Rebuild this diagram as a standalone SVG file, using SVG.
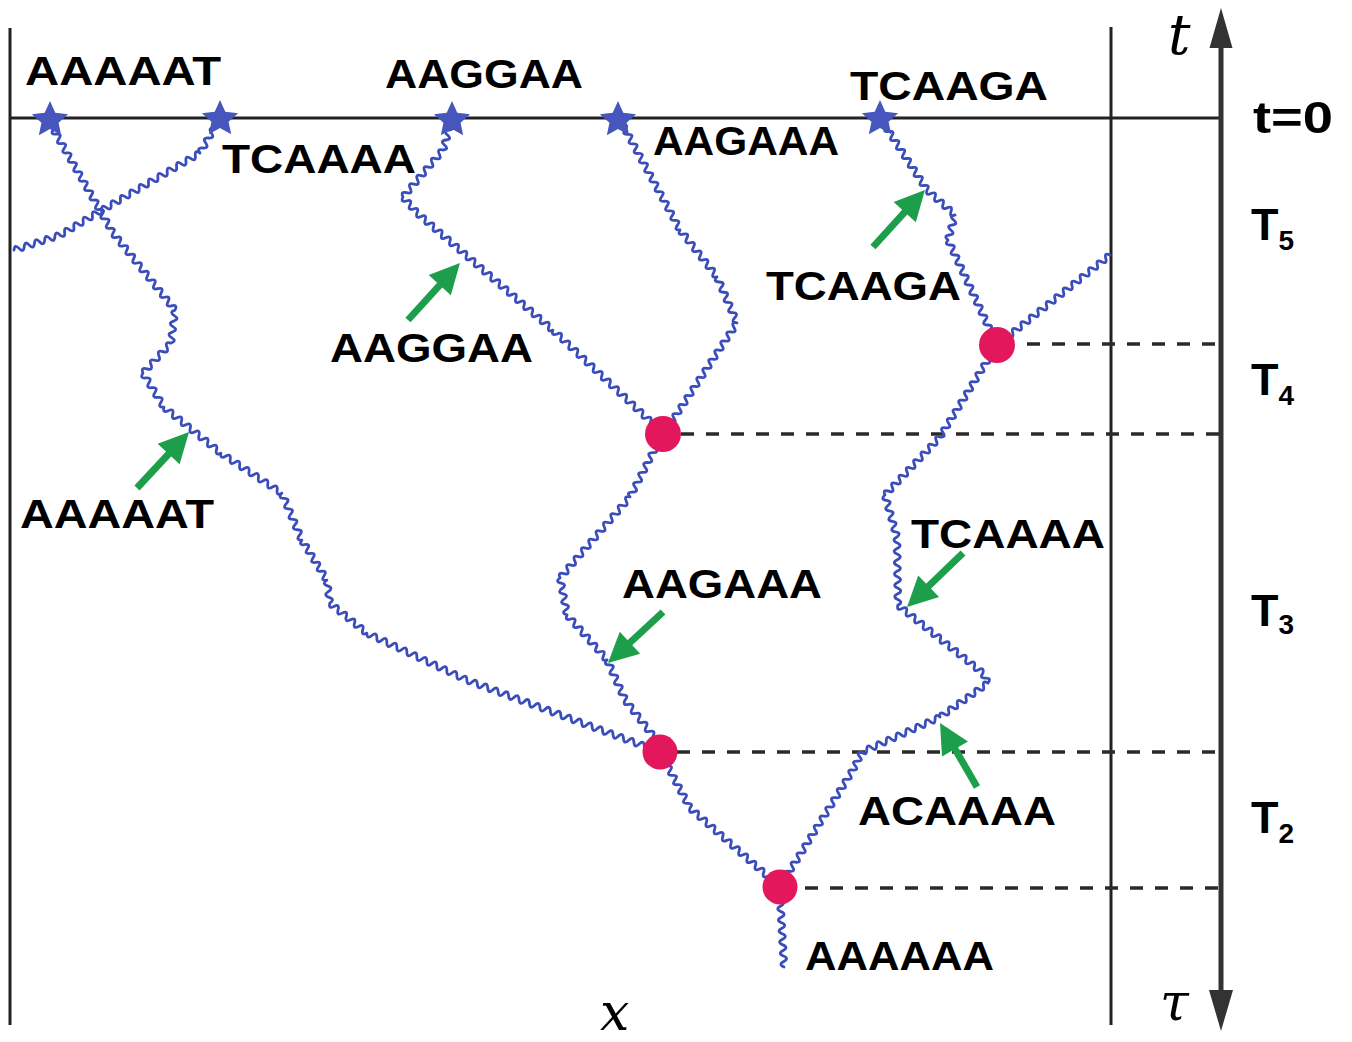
<svg xmlns="http://www.w3.org/2000/svg" width="1352" height="1042" viewBox="0 0 1352 1042">
<style>
.frame{stroke:#222;stroke-width:3;fill:none}
.axis{stroke:#333;stroke-width:5;fill:none}
.dash{stroke:#2a2a2a;stroke-width:3.5;stroke-dasharray:13 12;fill:none}
.lin{stroke:#3a4dbb;stroke-width:2.8;fill:none;stroke-linejoin:round;stroke-linecap:round}
.star{fill:#4656bd}
.dot{fill:#e3175b}
.arr{stroke:#1c9e4b;stroke-width:7;fill:none;marker-end:url(#ah)}
.seq{font-family:"Liberation Sans",Arial,sans-serif;font-weight:bold;font-size:41px;fill:#000}
.tl{font-family:"Liberation Sans",Arial,sans-serif;font-weight:bold;font-size:45px;fill:#000}
.math{font-family:"DejaVu Serif","Liberation Serif",serif;font-style:italic;fill:#000}
</style>
<defs>
<marker id="ah" markerUnits="userSpaceOnUse" markerWidth="34" markerHeight="34" viewBox="0 -17 34 34" refX="2" refY="0" orient="auto" overflow="visible">
<path d="M0,-15 L30,0 L0,15 Z" fill="#1c9e4b"/>
</marker>
<polygon id="starshape" points="0,-19 5.29,-7.28 18.07,-5.87 8.56,2.78 11.17,15.37 0,9 -11.17,15.37 -8.56,2.78 -18.07,-5.87 -5.29,-7.28"/>
</defs>
<rect width="1352" height="1042" fill="#fff"/>
<g id="frame">
<line class="frame" x1="10" y1="28" x2="10" y2="1025"/>
<line class="frame" x1="1111" y1="27" x2="1111" y2="1025"/>
<line class="frame" x1="10" y1="118" x2="1221" y2="118"/>
<line class="axis" x1="1221" y1="40" x2="1221" y2="998"/>
<path d="M1221,8 L1232.5,48 L1209.5,48 Z" fill="#333"/>
<path d="M1221,1031 L1233,990 L1209,990 Z" fill="#333"/>
</g>
<g id="dashes">
<line class="dash" x1="1027" y1="344" x2="1219" y2="344"/>
<line class="dash" x1="681" y1="434" x2="1219" y2="434"/>
<line class="dash" x1="677" y1="752" x2="1219" y2="752"/>
<line class="dash" x1="805" y1="888" x2="1219" y2="888"/>
</g>
<g id="connectors">
<path class="lin" d="M48,120 q-3.84,5.35 2.71,4.71 t2.71,4.71 2.71,4.71 2.71,4.71 2.71,4.71 2.71,4.71  2.71,4.71 2.71,4.71 2.71,4.71 2.71,4.71 2.71,4.71  2.71,4.71 2.71,4.71 2.71,4.71 2.71,4.71 2.71,4.71  2.71,4.71 2.71,4.71 2.71,4.71 2.71,4.71 2.71,4.71  2.71,4.71 2.71,4.71 2.71,4.71
 q-2.96,5.9 3.44,4.28 t3.44,4.28 3.44,4.28 3.44,4.28 3.44,4.28 3.44,4.28  3.44,4.28 3.44,4.28 3.44,4.28 3.44,4.28 3.44,4.28  3.44,4.28 3.44,4.28 3.44,4.28 3.44,4.28 3.44,4.28  3.44,4.28 3.44,4.28
 q-6.3,2.03 -0.67,5.5 t-0.67,5.5 -0.67,5.5 -0.67,5.5 -0.67,5.5 -0.67,5.5
 q-6.38,-1.96 -4,4.29 t-4,4.29 -4,4.29 -4,4.29 -4,4.29 -4,4.29 -4,4.29
 q-3.6,5.58 3,4.86 t3,4.86 3,4.86 3,4.86 3,4.86 3,4.86 3,4.86
 q-1.58,6.44 4.38,3.54 t4.38,3.54 4.38,3.54 4.38,3.54 4.38,3.54 4.38,3.54  4.38,3.54 4.38,3.54 4.38,3.54 4.38,3.54 4.38,3.54  4.38,3.54 4.38,3.54
 q-0.95,6.55 4.69,3.08 t4.69,3.08 4.69,3.08 4.69,3.08 4.69,3.08 4.69,3.08  4.69,3.08 4.69,3.08 4.69,3.08 4.69,3.08 4.69,3.08  4.69,3.08 4.69,3.08
 q-4.41,4.97 2.22,5.22 t2.22,5.22 2.22,5.22 2.22,5.22 2.22,5.22 2.22,5.22  2.22,5.22 2.22,5.22 2.22,5.22
 q-3.7,5.4 2.78,4.44 t2.78,4.44 2.78,4.44 2.78,4.44 2.78,4.44 2.78,4.44  2.78,4.44 2.78,4.44 2.78,4.44
 q-5.57,3.66 0.75,5.75 t0.75,5.75 0.75,5.75 0.75,5.75
 q-1.73,6.34 4.11,3.33 t4.11,3.33 4.11,3.33 4.11,3.33 4.11,3.33 4.11,3.33  4.11,3.33 4.11,3.33 4.11,3.33
 q-0.05,6.61 5,2.35 t5,2.35 5,2.35 5,2.35 5,2.35 5,2.35  5,2.35 5,2.35 5,2.35 5,2.35 5,2.35  5,2.35 5,2.35 5,2.35 5,2.35 5,2.35  5,2.35 5,2.35 5,2.35 5,2.35
 q0.51,6.6 5.22,1.94 t5.22,1.94 5.22,1.94 5.22,1.94 5.22,1.94 5.22,1.94  5.22,1.94 5.22,1.94 5.22,1.94 5.22,1.94 5.22,1.94  5.22,1.94 5.22,1.94 5.22,1.94 5.22,1.94 5.22,1.94  5.22,1.94 5.22,1.94 5.22,1.94 5.22,1.94 5.22,1.94  5.22,1.94 5.22,1.94 5.22,1.94 5.22,1.94 5.22,1.94  5.22,1.94 5.22,1.94 5.22,1.94 5.22,1.94 5.22,1.94  5.22,1.94 5.22,1.94 5.22,1.94 5.22,1.94 5.22,1.94"/>
<path class="lin" d="M220,118 q-6.64,-0.47 -2.86,5 t-2.86,5 -2.86,5 -2.86,5 -2.86,5 -2.86,5 -2.86,5
 q-5.36,-3.82 -4.68,2.73 t-4.68,2.73 -4.68,2.73 -4.68,2.73 -4.68,2.73 -4.68,2.73  -4.68,2.73 -4.68,2.73 -4.68,2.73 -4.68,2.73 -4.68,2.73  -4.68,2.73 -4.68,2.73 -4.68,2.73 -4.68,2.73 -4.68,2.73  -4.68,2.73 -4.68,2.73 -4.68,2.73 -4.68,2.73 -4.68,2.73  -4.68,2.73
 q-5.38,-3.78 -4.63,2.75 t-4.63,2.75 -4.63,2.75 -4.63,2.75 -4.63,2.75 -4.63,2.75  -4.63,2.75 -4.63,2.75
 q-4.42,-4.87 -5.11,1.67 t-5.11,1.67 -5.11,1.67 -5.11,1.67 -5.11,1.67 -5.11,1.67  -5.11,1.67 -5.11,1.67 -5.11,1.67"/>
<path class="lin" d="M452,120 q-6.5,0.78 -1.5,5 t-1.5,5 -1.5,5 -1.5,5 -1.5,5 -1.5,5
 q-6.4,-1.76 -3.64,4.27 t-3.64,4.27 -3.64,4.27 -3.64,4.27 -3.64,4.27 -3.64,4.27  -3.64,4.27 -3.64,4.27 -3.64,4.27 -3.64,4.27 -3.64,4.27
 q-2.77,5.95 3.5,4 t3.5,4 3.5,4 3.5,4
 q-1.86,6.33 4.12,3.55 t4.12,3.55 4.12,3.55 4.12,3.55 4.12,3.55 4.12,3.55  4.12,3.55 4.12,3.55 4.12,3.55 4.12,3.55 4.12,3.55  4.12,3.55 4.12,3.55 4.12,3.55 4.12,3.55 4.12,3.55  4.12,3.55 4.12,3.55 4.12,3.55 4.12,3.55 4.12,3.55  4.12,3.55 4.12,3.55 4.12,3.55 4.12,3.55 4.12,3.55  4.12,3.55 4.12,3.55 4.12,3.55 4.12,3.55 4.12,3.55  4.12,3.55 4.12,3.55
 q-2.07,6.29 4.07,3.81 t4.07,3.81 4.07,3.81 4.07,3.81 4.07,3.81 4.07,3.81  4.07,3.81 4.07,3.81 4.07,3.81 4.07,3.81 4.07,3.81  4.07,3.81 4.07,3.81 4.07,3.81 4.07,3.81 4.07,3.81  4.07,3.81 4.07,3.81 4.07,3.81 4.07,3.81 4.07,3.81  4.07,3.81 4.07,3.81 4.07,3.81 4.07,3.81 4.07,3.81  4.07,3.81"/>
<path class="lin" d="M620,120 q-3.97,5.27 2.61,4.78 t2.61,4.78 2.61,4.78 2.61,4.78 2.61,4.78 2.61,4.78  2.61,4.78 2.61,4.78 2.61,4.78 2.61,4.78 2.61,4.78  2.61,4.78 2.61,4.78 2.61,4.78 2.61,4.78 2.61,4.78  2.61,4.78 2.61,4.78 2.61,4.78 2.61,4.78 2.61,4.78  2.61,4.78 2.61,4.78
 q-3.03,5.85 3.36,4.27 t3.36,4.27 3.36,4.27 3.36,4.27 3.36,4.27 3.36,4.27  3.36,4.27 3.36,4.27 3.36,4.27 3.36,4.27 3.36,4.27
 q-4.4,4.95 2.22,5.11 t2.22,5.11 2.22,5.11 2.22,5.11 2.22,5.11 2.22,5.11  2.22,5.11 2.22,5.11 2.22,5.11
 q-6.51,-1.03 -3,4.54 t-3,4.54 -3,4.54 -3,4.54 -3,4.54 -3,4.54  -3,4.54 -3,4.54 -3,4.54 -3,4.54 -3,4.54  -3,4.54 -3,4.54 -3,4.54 -3,4.54 -3,4.54  -3,4.54 -3,4.54 -3,4.54 -3,4.54 -3,4.54  -3,4.54 -3,4.54 -3,4.54"/>
<path class="lin" d="M880,118 q-3.56,5.54 2.94,4.5 t2.94,4.5 2.94,4.5 2.94,4.5 2.94,4.5 2.94,4.5  2.94,4.5 2.94,4.5 2.94,4.5 2.94,4.5 2.94,4.5  2.94,4.5 2.94,4.5 2.94,4.5 2.94,4.5 2.94,4.5
 q-1.99,6.26 4,3.57 t4,3.57 4,3.57 4,3.57 4,3.57 4,3.57 4,3.57
 q-6.48,0.88 -1.4,5 t-1.4,5 -1.4,5 -1.4,5 -1.4,5
 q-4.27,5.04 2.33,5 t2.33,5 2.33,5 2.33,5 2.33,5 2.33,5  2.33,5 2.33,5 2.33,5 2.33,5 2.33,5  2.33,5 2.33,5 2.33,5 2.33,5 2.33,5  2.33,5 2.33,5 2.33,5 2.33,5 2.33,5"/>
<path class="lin" d="M1110,255 q-5.87,-2.99 -4.23,3.38 t-4.23,3.38 -4.23,3.38 -4.23,3.38 -4.23,3.38 -4.23,3.38  -4.23,3.38 -4.23,3.38 -4.23,3.38 -4.23,3.38 -4.23,3.38  -4.23,3.38 -4.23,3.38 -4.23,3.38 -4.23,3.38 -4.23,3.38  -4.23,3.38 -4.23,3.38 -4.23,3.38 -4.23,3.38 -4.23,3.38  -4.23,3.38 -4.23,3.38 -4.23,3.38 -4.23,3.38 -4.23,3.38"/>
<path class="lin" d="M663,433 q-6.61,-0.29 -2.54,4.92 t-2.54,4.92 -2.54,4.92 -2.54,4.92 -2.54,4.92 -2.54,4.92  -2.54,4.92 -2.54,4.92 -2.54,4.92 -2.54,4.92 -2.54,4.92  -2.54,4.92 -2.54,4.92
 q-6.39,-1.8 -3.68,4.26 t-3.68,4.26 -3.68,4.26 -3.68,4.26 -3.68,4.26 -3.68,4.26  -3.68,4.26 -3.68,4.26 -3.68,4.26 -3.68,4.26 -3.68,4.26  -3.68,4.26 -3.68,4.26 -3.68,4.26 -3.68,4.26 -3.68,4.26  -3.68,4.26 -3.68,4.26 -3.68,4.26
 q-5.4,3.76 1,5.29 t1,5.29 1,5.29 1,5.29 1,5.29 1,5.29 1,5.29
 q-2.67,6.03 3.64,4.09 t3.64,4.09 3.64,4.09 3.64,4.09 3.64,4.09 3.64,4.09  3.64,4.09 3.64,4.09 3.64,4.09 3.64,4.09 3.64,4.09
 q-4.34,4.96 2.25,5 t2.25,5 2.25,5 2.25,5 2.25,5 2.25,5 2.25,5 2.25,5
 q-2.99,5.94 3.5,4.5 t3.5,4.5 3.5,4.5 3.5,4.5 3.5,4.5 3.5,4.5  3.5,4.5 3.5,4.5 3.5,4.5 3.5,4.5"/>
<path class="lin" d="M660,752 q-4.03,5.16 2.5,4.67 t2.5,4.67 2.5,4.67 2.5,4.67 2.5,4.67 2.5,4.67  2.5,4.67 2.5,4.67 2.5,4.67 2.5,4.67 2.5,4.67  2.5,4.67
 q-1.92,6.3 4.09,3.59 t4.09,3.59 4.09,3.59 4.09,3.59 4.09,3.59 4.09,3.59  4.09,3.59 4.09,3.59 4.09,3.59 4.09,3.59 4.09,3.59  4.09,3.59 4.09,3.59 4.09,3.59 4.09,3.59 4.09,3.59  4.09,3.59 4.09,3.59 4.09,3.59 4.09,3.59 4.09,3.59  4.09,3.59"/>
<path class="lin" d="M997,345 q-6.53,-0.87 -2.85,4.6 t-2.85,4.6 -2.85,4.6 -2.85,4.6 -2.85,4.6 -2.85,4.6  -2.85,4.6 -2.85,4.6 -2.85,4.6 -2.85,4.6 -2.85,4.6  -2.85,4.6 -2.85,4.6 -2.85,4.6 -2.85,4.6 -2.85,4.6  -2.85,4.6 -2.85,4.6 -2.85,4.6 -2.85,4.6
 q-6.19,-2.2 -3.67,3.87 t-3.67,3.87 -3.67,3.87 -3.67,3.87 -3.67,3.87 -3.67,3.87  -3.67,3.87 -3.67,3.87 -3.67,3.87 -3.67,3.87 -3.67,3.87  -3.67,3.87 -3.67,3.87 -3.67,3.87 -3.67,3.87
 q-5.03,4.28 1.5,5.25 t1.5,5.25 1.5,5.25 1.5,5.25 1.5,5.25 1.5,5.25 1.5,5.25 1.5,5.25
 q-5.96,2.93 0.08,5.67 t0.08,5.67 0.08,5.67 0.08,5.67 0.08,5.67 0.08,5.67  0.08,5.67 0.08,5.67 0.08,5.67 0.08,5.67 0.08,5.67  0.08,5.67
 q-1.63,6.38 4.25,3.4 t4.25,3.4 4.25,3.4 4.25,3.4 4.25,3.4 4.25,3.4  4.25,3.4 4.25,3.4 4.25,3.4 4.25,3.4 4.25,3.4  4.25,3.4 4.25,3.4 4.25,3.4 4.25,3.4 4.25,3.4  4.25,3.4 4.25,3.4 4.25,3.4 4.25,3.4
 q-4.12,5.19 2.5,5 t2.5,5
 q-5.65,-3.35 -4.36,3.09 t-4.36,3.09 -4.36,3.09 -4.36,3.09 -4.36,3.09 -4.36,3.09  -4.36,3.09 -4.36,3.09 -4.36,3.09 -4.36,3.09 -4.36,3.09
 q-4.9,-4.39 -4.88,2.19 t-4.88,2.19 -4.88,2.19 -4.88,2.19 -4.88,2.19 -4.88,2.19  -4.88,2.19 -4.88,2.19 -4.88,2.19 -4.88,2.19 -4.88,2.19  -4.88,2.19 -4.88,2.19 -4.88,2.19 -4.88,2.19 -4.88,2.19
 q-6.5,-0.44 -2.25,4.5 t-2.25,4.5 -2.25,4.5 -2.25,4.5
 q-6.53,-0.88 -2.88,4.6 t-2.88,4.6 -2.88,4.6 -2.88,4.6 -2.88,4.6 -2.88,4.6  -2.88,4.6 -2.88,4.6 -2.88,4.6 -2.88,4.6 -2.88,4.6  -2.88,4.6 -2.88,4.6 -2.88,4.6 -2.88,4.6 -2.88,4.6  -2.88,4.6 -2.88,4.6 -2.88,4.6 -2.88,4.6 -2.88,4.6  -2.88,4.6 -2.88,4.6 -2.88,4.6 -2.88,4.6"/>
<path class="lin" d="M780,895 q-5.84,3.1 0.31,5.54 t0.31,5.54 0.31,5.54 0.31,5.54 0.31,5.54 0.31,5.54  0.31,5.54 0.31,5.54 0.31,5.54 0.31,5.54 0.31,5.54  0.31,5.54 0.31,5.54"/>
</g>
<g id="arrows">
<line class="arr" x1="873" y1="247" x2="906.1" y2="210.7"/>
<line class="arr" x1="408" y1="320" x2="441.1" y2="283.7"/>
<line class="arr" x1="137" y1="488" x2="170" y2="452.5"/>
<line class="arr" x1="963" y1="553" x2="927.2" y2="587.6"/>
<line class="arr" x1="663" y1="612" x2="628.5" y2="644"/>
<line class="arr" x1="977" y1="787" x2="954" y2="747.2"/>
</g>
<g id="star-AAAAAT"><use href="#starshape" class="star" x="50" y="120"/></g>
<g id="star-TCAAAA"><use href="#starshape" class="star" x="220" y="119"/></g>
<g id="star-AAGGAA"><use href="#starshape" class="star" x="452" y="120"/></g>
<g id="star-AAGAAA"><use href="#starshape" class="star" x="618" y="120"/></g>
<g id="star-TCAAGA"><use href="#starshape" class="star" x="880" y="119"/></g>
<g id="node-m1"><circle class="dot" cx="997" cy="345" r="18"/></g>
<g id="node-m2"><circle class="dot" cx="663" cy="434" r="18"/></g>
<g id="node-m3"><circle class="dot" cx="660" cy="752" r="17.5"/></g>
<g id="node-root"><circle class="dot" cx="780" cy="887" r="17.5"/></g>
<g id="labels">
<text class="seq" x="25" y="85" textLength="196" lengthAdjust="spacingAndGlyphs">AAAAAT</text>
<text class="seq" x="385" y="88" textLength="198" lengthAdjust="spacingAndGlyphs">AAGGAA</text>
<text class="seq" x="850" y="100" textLength="198" lengthAdjust="spacingAndGlyphs">TCAAGA</text>
<text class="seq" x="222" y="173" textLength="194" lengthAdjust="spacingAndGlyphs">TCAAAA</text>
<text class="seq" x="653" y="155" textLength="186" lengthAdjust="spacingAndGlyphs">AAGAAA</text>
<text class="seq" x="766" y="300" textLength="195" lengthAdjust="spacingAndGlyphs">TCAAGA</text>
<text class="seq" x="330" y="362" textLength="203" lengthAdjust="spacingAndGlyphs">AAGGAA</text>
<text class="seq" x="20" y="528" textLength="194" lengthAdjust="spacingAndGlyphs">AAAAAT</text>
<text class="seq" x="911" y="548" textLength="194" lengthAdjust="spacingAndGlyphs">TCAAAA</text>
<text class="seq" x="622" y="598" textLength="200" lengthAdjust="spacingAndGlyphs">AAGAAA</text>
<text class="seq" x="858" y="825" textLength="198" lengthAdjust="spacingAndGlyphs">ACAAAA</text>
<text class="seq" x="805" y="970" textLength="189" lengthAdjust="spacingAndGlyphs">AAAAAA</text>
</g>
<g id="axis-labels">
<text class="tl" x="1253" y="133" textLength="80" lengthAdjust="spacingAndGlyphs">t=0</text>
<text class="tl" x="1251" y="240">T<tspan dy="10" font-size="28">5</tspan></text>
<text class="tl" x="1251" y="395">T<tspan dy="10" font-size="28">4</tspan></text>
<text class="tl" x="1251" y="626">T<tspan dy="8" font-size="28">3</tspan></text>
<text class="tl" x="1251" y="833">T<tspan dy="10" font-size="28">2</tspan></text>
<text class="math" x="1168" y="54" font-size="56">t</text>
<text class="math" x="1160" y="1020" font-size="52">τ</text>
<text class="math" x="600" y="1030" font-size="52">x</text>
</g>
</svg>
